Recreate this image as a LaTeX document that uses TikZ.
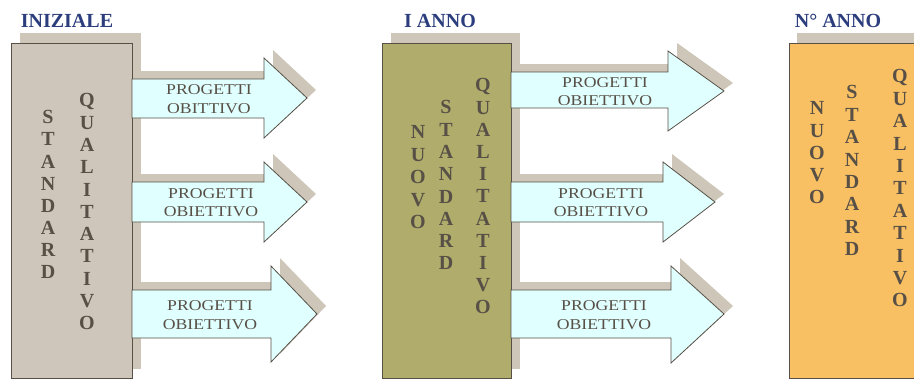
\documentclass[tikz,border=0pt]{standalone}
\usepackage{fontspec}
\setmainfont{Liberation Serif}
\newfontfamily\arrfont[FakeStretch=1.18]{Liberation Serif}
\definecolor{titleblue}{HTML}{2B3D7D}
\definecolor{inkgrey}{HTML}{585046}
\definecolor{shadowc}{HTML}{CDC6B9}
\definecolor{boxA}{HTML}{CEC6BA}
\definecolor{boxB}{HTML}{B0AD6C}
\definecolor{boxC}{HTML}{F8C063}
\definecolor{arrfill}{HTML}{E0FFFF}
\tikzset{
  titletext/.style={font=\fontsize{20}{24}\selectfont\bfseries, text=titleblue, inner sep=0},
  letter/.style={font=\fontsize{20}{22}\selectfont\bfseries, text=inkgrey, inner sep=0, anchor=base},
  arrtext/.style={font=\arrfont\fontsize{15}{18.5}\selectfont, text=inkgrey, align=center, inner sep=0},
  panel/.style={draw=inkgrey, line width=1pt},
  arrowshape/.style={draw=inkgrey, fill=arrfill, line width=0.8pt, line join=miter},
  shade/.style={fill=shadowc},
}
% #1 x0, #2 body top, #3 body bottom, #4 head base x, #5 head top, #6 head bottom, #7 tip x, #8 tip y
\newcommand\garrowshadow[8]{%
  \fill[shade, shift={(9,-8)}] (#1,#2) -- (#4,#2) -- (#4,#5) -- (#7,#8) -- (#4,#6) -- (#4,#3) -- (#1,#3) -- cycle;}
\newcommand\garrow[8]{%
  \path[arrowshape] (#1,#2) -- (#4,#2) -- (#4,#5) -- (#7,#8) -- (#4,#6) -- (#4,#3) -- (#1,#3) -- cycle;}
\newcommand\vcol[5]{%
  \foreach \L [count=\i] in {#5} \node[letter] (#1\i) at (#2,{#3+6.8+(\i-1)*#4}) {\L};}
\begin{document}
\begin{tikzpicture}[x=1pt,y=-1pt]
\useasboundingbox (0,0) rectangle (914,380);
\clip (0,0) rectangle (914,380);
% titles
\node[titletext] (t1) at (67,21) {INIZIALE};
\node[titletext] (t2) at (440,21) {I ANNO};
\node[titletext] (t3) at (838,21) {N° ANNO};
% shadows
\fill[shade] (20,33) rectangle (141,369);
\fill[shade] (391,33) rectangle (520,369);
\fill[shade] (797,33) rectangle (940,369);
\garrowshadow{132}{79}{118}{264}{58}{138}{307}{98}
\garrowshadow{132}{182}{222}{264}{162}{242}{307}{202}
\garrowshadow{132}{290}{338}{271}{266}{362}{317}{314}
\garrowshadow{511}{72}{108}{668}{51}{131}{724}{91}
\garrowshadow{511}{182}{222}{663}{162}{242}{715}{202}
\garrowshadow{511}{290}{338}{671}{266}{363}{724}{314}
% boxes
\path[panel, fill=boxA] (11,43) rectangle (132,378);
\path[panel, fill=boxB] (382,43) rectangle (511,378);
\path[panel, fill=boxC] (789,43) rectangle (940,378);
% arrows
\garrow{132}{79}{118}{264}{58}{138}{307}{98}
\garrow{132}{182}{222}{264}{162}{242}{307}{202}
\garrow{132}{290}{338}{271}{266}{362}{317}{314}
\garrow{511}{72}{108}{668}{51}{131}{724}{91}
\garrow{511}{182}{222}{663}{162}{242}{715}{202}
\garrow{511}{290}{338}{671}{266}{363}{724}{314}
% arrow texts
\node[arrtext] (a11) at (209,99) {PROGETTI\\OBITTIVO};
\node[arrtext] (a12) at (211,202.5) {PROGETTI\\OBIETTIVO};
\node[arrtext] (a13) at (210,315) {PROGETTI\\OBIETTIVO};
\node[arrtext] (a21) at (605,91.5) {PROGETTI\\OBIETTIVO};
\node[arrtext] (a22) at (601,202.5) {PROGETTI\\OBIETTIVO};
\node[arrtext] (a23) at (604,315) {PROGETTI\\OBIETTIVO};
% vertical words
\vcol{pas}{48}{117}{22.1}{S,T,A,N,D,A,R,D}
\vcol{paq}{87}{100}{22.3}{Q,U,A,L,I,T,A,T,I,V,O}
\vcol{pbn}{418}{132}{22.5}{N,U,O,V,O}
\vcol{pbs}{446}{107}{22.3}{S,T,A,N,D,A,R,D}
\vcol{pbq}{483}{85}{22.2}{Q,U,A,L,I,T,A,T,I,V,O}
\vcol{pcn}{817}{108}{22.25}{N,U,O,V,O}
\vcol{pcs}{852}{92}{22.4}{S,T,A,N,D,A,R,D}
\vcol{pcq}{900}{76}{22.4}{Q,U,A,L,I,T,A,T,I,V,O}
\end{tikzpicture}
\end{document}
